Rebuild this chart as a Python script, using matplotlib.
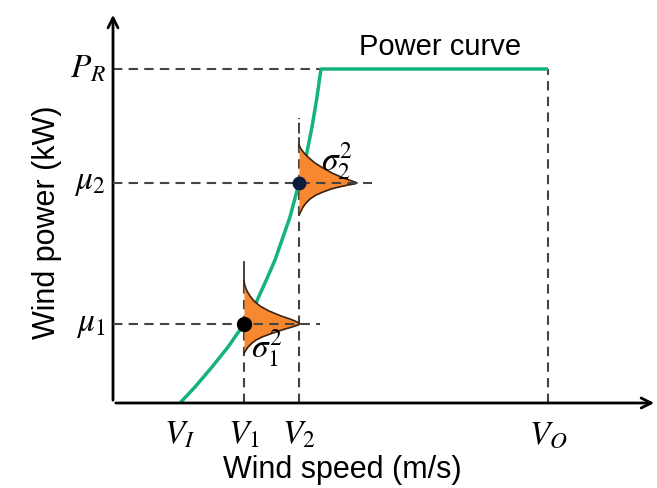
import numpy as np
import matplotlib
matplotlib.use("Agg")
import matplotlib.pyplot as plt

plt.rcParams['font.family'] = ['Liberation Sans', 'DejaVu Sans']
plt.rcParams['mathtext.fontset'] = 'stix'

# key speeds / powers (arbitrary schematic units)
v_i, v_1, v_2, v_r, v_o = 67, 131, 186, 208, 435
p_r, mu_1, mu_2 = 334, 79, 220

# power curve (ramp section)
curve_v = [67, 82, 99, 115, 131, 142, 152, 162, 177, 186, 193, 199, 204, 208, 435]
curve_p = [0, 16, 36, 56, 79, 98, 120, 143, 186, 220, 246, 276, 306, 334, 334]

# error distributions: vertical offset from the mean and horizontal width
dist1_off = [-29, -26, -23, -19, -16, -13, -10, -8, -5, -3, -1, 0,
             1, 3, 5, 8, 13, 18, 23, 28, 33, 38, 43]
dist1_w = [0, 2, 4, 8, 12, 18, 26, 32, 41, 48, 54, 56,
           55, 51, 46, 37, 25, 16, 10, 6, 3, 1, 0]
dist2_off = [-32, -28, -24, -20, -16, -12, -9, -6, -4, -2, -1, 0,
             1, 3, 6, 10, 15, 20, 25, 30, 34, 38]
dist2_w = [0, 2, 4, 7, 11, 17, 24, 32, 40, 49, 55, 58,
           56, 50, 42, 33, 24, 16, 10, 5, 2, 0]

dash_kw = dict(color='#444444', lw=1.5, dashes=(4.5, 3), clip_on=False)


def draw_dist(ax, v, mu, off, w):
    y = mu + np.array(off)
    x = v + np.array(w)
    ax.fill_betweenx(y, v, x, color='#f7882f', zorder=3, lw=0)
    ax.plot(x, y, color='#3b2414', lw=1.2, zorder=4)


fig = plt.figure(figsize=(6.57, 4.88), dpi=100)
ax = fig.add_axes([113 / 657, 85 / 488, 544 / 657, 391 / 488])
ax.set_xlim(0, 544)
ax.set_ylim(0, 391)
ax.axis('off')

# axes with arrows
ax.annotate('', xy=(544, 0), xytext=(0, 0),
            arrowprops=dict(arrowstyle='->', lw=2, color='black', mutation_scale=18))
ax.annotate('', xy=(0, 391), xytext=(0, 0),
            arrowprops=dict(arrowstyle='->', lw=2, color='black', mutation_scale=18))

# reference dashed lines
ax.plot([0, v_r], [p_r, p_r], **dash_kw)
ax.plot([v_o, v_o], [0, p_r], **dash_kw)
ax.plot([0, 259], [mu_2, mu_2], **dash_kw, zorder=5)
ax.plot([0, 207], [mu_1, mu_1], **dash_kw, zorder=5)
ax.plot([v_1, v_1], [0, mu_1 + 43], **dash_kw)
ax.plot([v_1, v_1], [mu_1 + 40, 141], color='#333333', lw=1.3)
ax.plot([v_2, v_2], [0, mu_2 + 38], **dash_kw)
ax.plot([v_2, v_2], [mu_2 + 35, 285], color='#333333', lw=1.3, dashes=(6, 2))

ax.plot(curve_v, curve_p, color='#13b37a', lw=2.5, zorder=2, solid_capstyle='butt')

draw_dist(ax, v_1, mu_1, dist1_off, dist1_w)
draw_dist(ax, v_2, mu_2, dist2_off, dist2_w)
ax.plot([v_1], [mu_1], 'o', color='black', ms=10, zorder=6)
ax.plot([v_2], [mu_2], 'o', color='#0d1b3d', ms=9, zorder=6)

# labels
ax.text(440 - 113, 403 - 47, 'Power curve', fontsize=21, ha='center', va='center')
for v, lab in [(v_i, '$V_I$'), (v_1, '$V_1$'), (v_2, '$V_2$'), (v_o, '$V_O$')]:
    ax.annotate(lab, xy=(v, 0), xytext=(0, -12), textcoords='offset points',
                ha='center', va='top', fontsize=24)
for p, lab in [(p_r, '$P_R$'), (mu_2, '$\\mu_2$'), (mu_1, '$\\mu_1$')]:
    ax.annotate(lab, xy=(0, p), xytext=(-5, 0), textcoords='offset points',
                ha='right', va='center', fontsize=24)
ax.text(v_2 + 38, mu_2 + 22, '$\\sigma_2^2$', fontsize=24, ha='center', va='center', zorder=7)
ax.text(v_1 + 23, mu_1 - 24, '$\\sigma_1^2$', fontsize=24, ha='center', va='center', zorder=7)

fig.text(342 / 657, 1 - 470 / 488, 'Wind speed (m/s)', fontsize=22, ha='center', va='center')
fig.text(47 / 657, 1 - 222 / 488, 'Wind power (kW)', fontsize=22, ha='center', va='center',
         rotation=90)

fig.savefig('out.png', dpi=100)
